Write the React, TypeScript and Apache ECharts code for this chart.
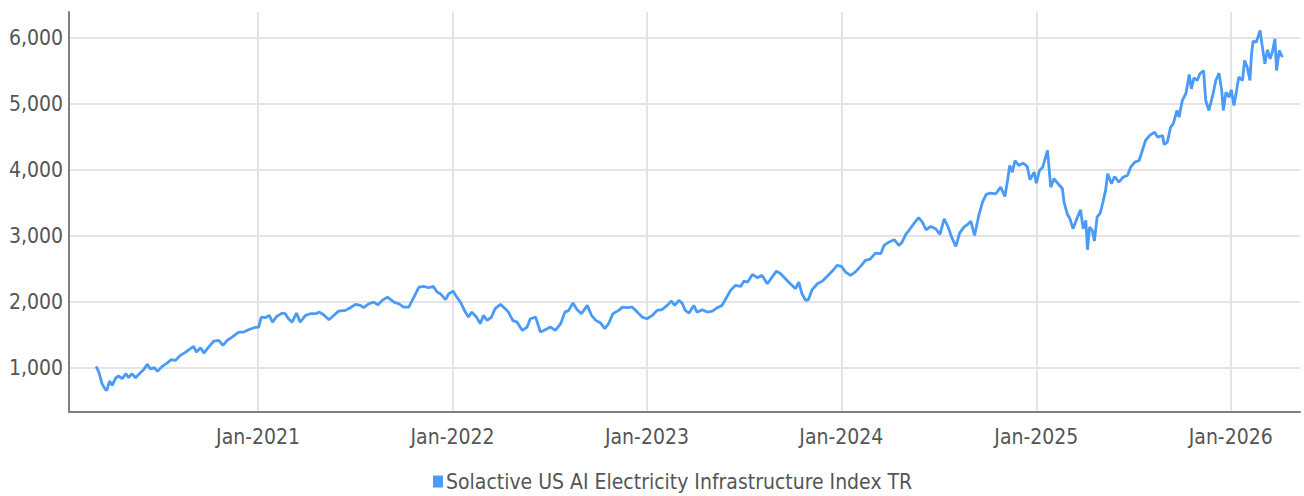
import React, { useEffect, useRef } from "react";
import * as echarts from "echarts";

const seriesName = "Solactive US AI Electricity Infrastructure Index TR";

const dates: string[] = [
  "2020-03-03","2020-03-08","2020-03-14","2020-03-20","2020-03-23","2020-03-28","2020-04-02","2020-04-09","2020-04-14","2020-04-21",
  "2020-04-28","2020-05-03","2020-05-09","2020-05-16","2020-05-23","2020-05-31","2020-06-07","2020-06-13","2020-06-20","2020-06-26",
  "2020-07-05","2020-07-14","2020-07-22","2020-07-30","2020-08-08","2020-08-18","2020-08-27","2020-09-02","2020-09-07","2020-09-15",
  "2020-09-21","2020-09-30","2020-10-10","2020-10-19","2020-10-27","2020-11-04","2020-11-13","2020-11-26","2020-12-05","2020-12-14",
  "2020-12-24",
  "2021-01-02","2021-01-07","2021-01-14","2021-01-22","2021-01-28","2021-02-05","2021-02-15","2021-02-21","2021-02-27","2021-03-06",
  "2021-03-14","2021-03-21","2021-03-31","2021-04-09","2021-04-19","2021-04-26","2021-05-04","2021-05-14","2021-05-23","2021-06-01",
  "2021-06-14","2021-06-23","2021-07-03","2021-07-12","2021-07-18","2021-07-28","2021-08-06","2021-08-14","2021-08-22","2021-09-01",
  "2021-09-13","2021-09-22","2021-10-01","2021-10-11","2021-10-19","2021-10-30","2021-11-08","2021-11-17","2021-11-26","2021-12-03",
  "2021-12-09","2021-12-19","2021-12-25",
  "2022-01-02","2022-01-09","2022-01-16","2022-01-25","2022-01-31","2022-02-06","2022-02-15","2022-02-22","2022-02-28","2022-03-07",
  "2022-03-15","2022-03-22","2022-04-01","2022-04-10","2022-04-16","2022-04-24","2022-05-02","2022-05-12","2022-05-21","2022-05-27",
  "2022-06-06","2022-06-15","2022-06-24","2022-07-04","2022-07-13","2022-07-23","2022-07-31","2022-08-07","2022-08-15","2022-08-23",
  "2022-08-31","2022-09-11","2022-09-19","2022-09-27","2022-10-06","2022-10-14","2022-10-21","2022-10-29","2022-11-09","2022-11-16",
  "2022-11-25","2022-12-04","2022-12-14","2022-12-23",
  "2023-01-01","2023-01-11","2023-01-20","2023-01-29","2023-02-08","2023-02-16","2023-02-22","2023-03-02","2023-03-08","2023-03-14",
  "2023-03-21","2023-03-30","2023-04-05","2023-04-15","2023-04-24","2023-05-04","2023-05-13","2023-05-22","2023-05-29","2023-06-07",
  "2023-06-16","2023-06-26","2023-07-02","2023-07-09","2023-07-18","2023-07-27","2023-08-05","2023-08-15","2023-08-24","2023-09-01",
  "2023-09-09","2023-09-18","2023-09-27","2023-10-07","2023-10-13","2023-10-19","2023-10-26","2023-10-31","2023-11-07","2023-11-17",
  "2023-11-26","2023-12-05","2023-12-15","2023-12-24",
  "2024-01-01","2024-01-09","2024-01-18","2024-01-27","2024-02-06","2024-02-15","2024-02-24","2024-03-05","2024-03-15","2024-03-21",
  "2024-03-30","2024-04-09","2024-04-18","2024-04-24","2024-05-01","2024-05-09","2024-05-16","2024-05-25","2024-06-01","2024-06-08",
  "2024-06-17","2024-06-26","2024-07-04","2024-07-12","2024-07-20","2024-07-26","2024-08-03","2024-08-10","2024-08-18","2024-08-25",
  "2024-08-31","2024-09-07","2024-09-15","2024-09-22","2024-09-29","2024-10-07","2024-10-17","2024-10-26","2024-11-03","2024-11-08",
  "2024-11-12","2024-11-17","2024-11-22","2024-11-29","2024-12-07","2024-12-15","2024-12-20","2024-12-28",
  "2025-01-01","2025-01-07","2025-01-13","2025-01-22","2025-01-28","2025-02-03","2025-02-11","2025-02-19","2025-02-22","2025-02-28",
  "2025-03-05","2025-03-11","2025-03-18","2025-03-25","2025-03-30","2025-04-04","2025-04-07","2025-04-11","2025-04-16","2025-04-20",
  "2025-04-25","2025-05-01","2025-05-06","2025-05-11","2025-05-15","2025-05-22","2025-05-28","2025-06-05","2025-06-13","2025-06-21",
  "2025-06-27","2025-07-05","2025-07-13","2025-07-19","2025-07-25","2025-08-02","2025-08-11","2025-08-17","2025-08-26","2025-08-29",
  "2025-09-04","2025-09-10","2025-09-15","2025-09-22","2025-09-26","2025-10-02","2025-10-09","2025-10-15","2025-10-19","2025-10-24",
  "2025-10-30","2025-11-04","2025-11-11","2025-11-15","2025-11-21","2025-11-28","2025-12-04","2025-12-10","2025-12-15","2025-12-18",
  "2025-12-23","2025-12-29",
  "2026-01-02","2026-01-07","2026-01-12","2026-01-16","2026-01-23","2026-01-27","2026-02-01","2026-02-06","2026-02-09","2026-02-12",
  "2026-02-18","2026-02-25","2026-03-01","2026-03-06","2026-03-11","2026-03-16","2026-03-20","2026-03-25","2026-03-28","2026-04-02",
  "2026-04-08"
];

const values: number[] = [
  1026, 940, 764, 678, 663, 803, 738, 854, 880, 840,
  915, 854, 915, 854, 915, 976, 1056, 985, 1006, 950,
  1026, 1076, 1127, 1116, 1192, 1242, 1293, 1328, 1242, 1309,
  1227, 1318, 1409, 1419, 1343, 1419, 1469, 1545, 1545, 1581,
  1611,
  1620, 1772, 1762, 1797, 1696, 1782, 1832, 1823, 1747, 1696,
  1832, 1696, 1797, 1823, 1823, 1847, 1808, 1732, 1797, 1862,
  1873, 1914, 1964, 1949, 1914, 1974, 1999, 1959, 2024, 2074,
  1999, 1974, 1923, 1923, 2050, 2226, 2236, 2216, 2236, 2150,
  2126, 2035, 2126,
  2165, 2074, 1999, 1847, 1772, 1847, 1772, 1672, 1797, 1722,
  1772, 1899, 1964, 1899, 1847, 1722, 1696, 1570, 1620, 1747,
  1772, 1545, 1581, 1620, 1570, 1672, 1847, 1873, 1984, 1883,
  1823, 1949, 1797, 1722, 1681, 1596, 1672, 1823, 1873, 1923,
  1914, 1923, 1847, 1772,
  1747, 1797, 1873, 1883, 1949, 2014, 1949, 2024, 1984, 1873,
  1832, 1949, 1847, 1883, 1847, 1862, 1914, 1949, 2050, 2176,
  2251, 2236, 2316, 2301, 2418, 2368, 2403, 2277, 2377, 2468,
  2428, 2353, 2277, 2201, 2301, 2126, 2024, 2035, 2186, 2277,
  2316, 2387, 2468, 2554,
  2539, 2453, 2403, 2453, 2539, 2630, 2650, 2740, 2731, 2856,
  2906, 2943, 2856, 2906, 3023, 3109, 3185, 3276, 3209, 3094,
  3144, 3109, 3023, 3260, 3124, 2982, 2841, 3043, 3134, 3174,
  3224, 3008, 3310, 3512, 3628, 3648, 3638, 3739, 3598, 3840,
  4067, 3966, 4142, 4067, 4102, 4052, 3851, 3966,
  3799, 3991, 4041, 4294, 3739, 3866, 3790, 3714, 3512, 3336,
  3260, 3109, 3260, 3397, 3109, 3235, 2791, 3134, 3084, 2922,
  3285, 3345, 3512, 3689, 3941, 3790, 3900, 3814, 3890, 3916,
  4041, 4117, 4142, 4294, 4445, 4521, 4571, 4495, 4521, 4385,
  4420, 4646, 4698, 4899, 4798, 5050, 5161, 5444, 5227, 5394,
  5353, 5454, 5504, 5050, 4899, 5126, 5353, 5464, 5202, 4899,
  5176, 5100,
  5212, 4975, 5202, 5404, 5353, 5656, 5555, 5353, 5757, 5948,
  5933, 6110, 5883, 5606, 5817, 5681, 5782, 5984, 5504, 5807,
  5706
];

const xTickDates: string[] = ["2021-01-01", "2022-01-01", "2023-01-01", "2024-01-01", "2025-01-01", "2026-01-01"];
const yTickValues: number[] = [1000, 2000, 3000, 4000, 5000, 6000];
const monthNames: string[] = ["Jan", "Feb", "Mar", "Apr", "May", "Jun", "Jul", "Aug", "Sep", "Oct", "Nov", "Dec"];
const xMinDate = "2020-01-12";
const xMaxDate = "2026-05-11";
const yMin = 335;
const yMax = 6390;

function toTime(s: string): number {
  const [y, m, d] = s.split("-").map(Number);
  return new Date(y, m - 1, d).getTime();
}

const FONT = "'Liberation Sans Narrow', 'DejaVu Sans Condensed', Roboto, sans-serif";
const FONT_SIZE = 21;
const TEXT_COLOR = "#555555";
const AXIS_COLOR = "#808080";
const GRID_COLOR = "#e4e4e4";
const LINE_COLOR = "#4a9af7";

export default function App() {
  const ref = useRef<HTMLDivElement | null>(null);

  useEffect(() => {
    document.body.style.margin = "0";
    document.body.style.overflow = "hidden";
    if (!ref.current) return;
    const chart = echarts.init(ref.current, undefined, { renderer: "svg" });
    const xTicks = xTickDates.map(toTime);
    const data = dates.map((d, i) => [toTime(d), values[i]]);
    chart.setOption({
      animation: false,
      grid: { left: 69, right: 4, top: 12, bottom: 84, containLabel: false },
      xAxis: {
        type: "value",
        min: toTime(xMinDate),
        max: toTime(xMaxDate),
        axisLine: { show: true, lineStyle: { color: AXIS_COLOR, width: 2 } },
        axisTick: { show: false, customValues: xTicks },
        axisLabel: {
          customValues: xTicks,
          formatter: (v: number) => {
            const d = new Date(v);
            return monthNames[d.getMonth()] + "-" + d.getFullYear();
          },
          color: TEXT_COLOR,
          fontSize: FONT_SIZE,
          fontFamily: FONT,
          margin: 14,
        },
        splitLine: { show: true, lineStyle: { color: GRID_COLOR, width: 2 } },
      },
      yAxis: {
        type: "value",
        min: yMin,
        max: yMax,
        axisLine: { show: true, lineStyle: { color: AXIS_COLOR, width: 2 } },
        axisTick: { show: false, customValues: yTickValues },
        axisLabel: {
          customValues: yTickValues,
          formatter: (v: number) => v.toLocaleString("en-US"),
          color: TEXT_COLOR,
          fontSize: FONT_SIZE,
          fontFamily: FONT,
          margin: 6,
        },
        splitLine: { show: true, lineStyle: { color: GRID_COLOR, width: 2 } },
      },
      legend: {
        show: true,
        left: 428,
        top: 466,
        icon: "rect",
        itemWidth: 10,
        itemHeight: 12,
        itemGap: 10,
        textStyle: { color: TEXT_COLOR, fontSize: FONT_SIZE, fontFamily: FONT, padding: [0, 0, 0, -2] },
        data: [seriesName],
      },
      series: [
        {
          type: "line",
          name: seriesName,
          data,
          showSymbol: false,
          symbol: "none",
          lineStyle: { color: LINE_COLOR, width: 2.8 },
          itemStyle: { color: LINE_COLOR },
        },
      ],
    });
    return () => chart.dispose();
  }, []);

  return <div ref={ref} style={{ width: 1304, height: 496 }} />;
}
